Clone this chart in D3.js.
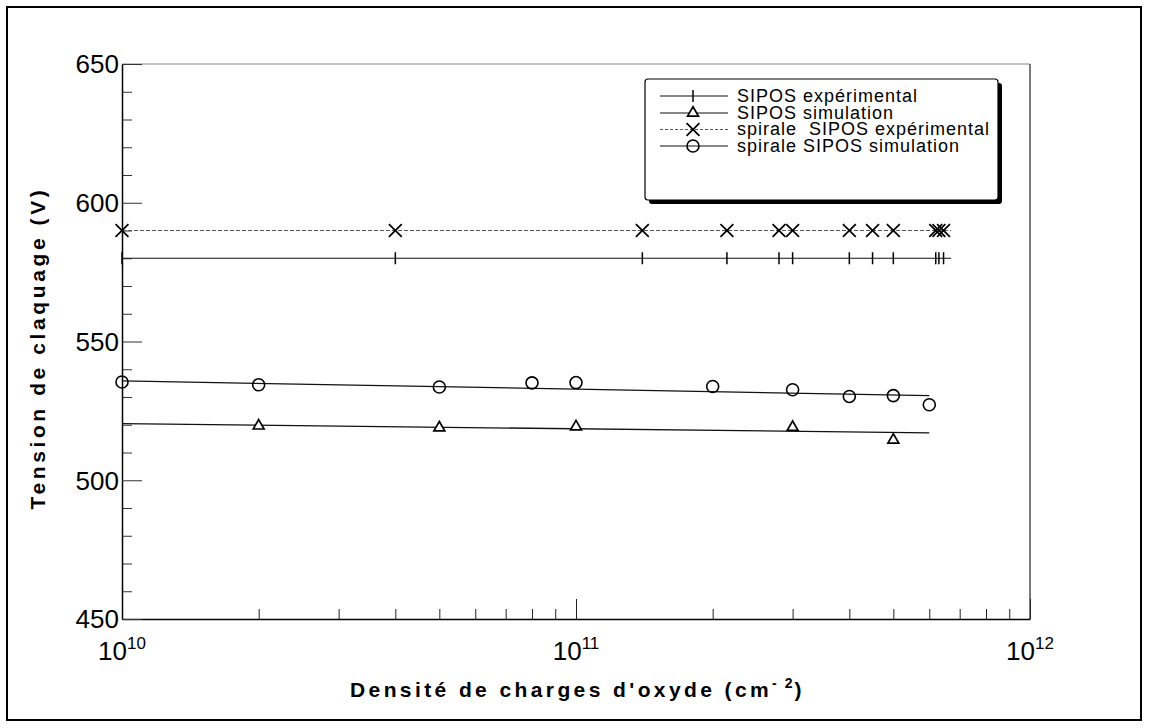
<!DOCTYPE html>
<html>
<head>
<meta charset="utf-8">
<script src="https://cdn.jsdelivr.net/npm/d3@7"></script>
<style>
  html, body { margin: 0; padding: 0; background: #fff; }
  svg { display: block; font-family: "Liberation Sans", Arial, Helvetica, sans-serif; }
</style>
</head>
<body>
<svg id="chart" width="1149" height="728"></svg>
<script>
// ---------- data ----------
const yTicksMajor = [450, 500, 550, 600, 650];
const xTicksMajor = [1e10, 1e11, 1e12];
const xTickExponents = ["10", "11", "12"];

// SIPOS expérimental (+) and spirale SIPOS expérimental (x)
const expX = [1e10, 4e10, 1.4e11, 2.15e11, 2.8e11, 3.0e11, 4.0e11, 4.5e11, 5.0e11, 6.2e11, 6.3e11, 6.45e11];
const siposExp = [580, 580, 580, 580, 580, 580, 580, 580, 580, 580, 580, 580];
const spiraleExp = [590, 590, 590, 590, 590, 590, 590, 590, 590, 590, 590, 590];
const expLineX = [1e10, 6.7e11];
const siposExpLine = [580, 580];
const spiraleExpLine = [590, 590];

// SIPOS simulation (triangles)
const simTriX = [2e10, 5e10, 1e11, 3e11, 5e11];
const simTriY = [519.6, 518.9, 519.3, 519.1, 514.5];
// spirale SIPOS simulation (circles)
const simCircX = [1e10, 2e10, 5e10, 8e10, 1e11, 2e11, 3e11, 4e11, 5e11, 6e11];
const simCircY = [535.4, 534.4, 533.6, 535.1, 535.2, 533.8, 532.6, 530.2, 530.5, 527.2];
// fitted lines
const fitX = [1e10, 6.0e11];
const triFit = [520.4, 517.1];
const circFit = [535.8, 530.5];

const legendLabels = ["SIPOS expérimental", "SIPOS simulation", "spirale  SIPOS expérimental", "spirale SIPOS simulation"];
const legendMarkers = ["plus", "triangle", "times", "circle"];

// ---------- layout ----------
const svg = d3.select("#chart");
const x = d3.scaleLog().domain([1e10, 1e12]).range([122, 1030]);
const y = d3.scaleLinear().domain([450, 650]).range([619, 64]);

// outer frame
svg.append("rect").attr("x", 7).attr("y", 7).attr("width", 1134).attr("height", 713)
  .attr("fill", "none").attr("stroke", "#000").attr("stroke-width", 2);

// plot frame
svg.append("line").attr("x1", x(1e10)).attr("x2", x(1e12)).attr("y1", y(650)).attr("y2", y(650))
  .attr("stroke", "#888").attr("stroke-width", 1.2);
svg.append("line").attr("x1", x(1e12)).attr("x2", x(1e12)).attr("y1", y(650)).attr("y2", y(450))
  .attr("stroke", "#222").attr("stroke-width", 1.2);

// x axis (inward ticks)
const xMinor = [];
for (let d = 1e10; d < 1e12; d *= 10) for (let k = 2; k <= 9; k++) xMinor.push(k * d);
svg.append("g").attr("transform", `translate(0,${y(450)})`)
  .call(d3.axisBottom(x).tickValues(xMinor).tickSize(-10).tickFormat(""))
  .call(g => g.select(".domain").remove())
  .selectAll("line").attr("stroke", "#222");
const gx = svg.append("g").attr("transform", `translate(0,${y(450)})`)
  .call(d3.axisBottom(x).tickValues(xTicksMajor).tickSize(-20).tickSizeOuter(0).tickFormat(""));
gx.select(".domain").attr("stroke", "#000").attr("stroke-width", 1.5);
gx.selectAll("line").attr("stroke", "#222");

// x tick labels with exponents
xTicksMajor.forEach((v, i) => {
  const t = svg.append("text").attr("x", x(v)).attr("y", 660)
    .attr("text-anchor", "middle").attr("font-size", 26).attr("fill", "#000");
  t.append("tspan").text("10");
  t.append("tspan").attr("dy", -11).attr("font-size", 17).text(xTickExponents[i]);
});

// y axis (inward ticks)
const yMinor = d3.range(460, 650, 10).filter(v => v % 50 !== 0);
svg.append("g").attr("transform", `translate(${x(1e10)},0)`)
  .call(d3.axisLeft(y).tickValues(yMinor).tickSize(-10).tickFormat(""))
  .call(g => g.select(".domain").remove())
  .selectAll("line").attr("stroke", "#333");
const gy = svg.append("g").attr("transform", `translate(${x(1e10)},0)`)
  .call(d3.axisLeft(y).tickValues(yTicksMajor).tickSize(-20).tickSizeOuter(0).tickFormat(""));
gy.select(".domain").attr("stroke", "#000").attr("stroke-width", 1.5);
gy.selectAll("line").attr("stroke", "#333");
yTicksMajor.forEach(v => {
  svg.append("text").attr("x", x(1e10) - 3).attr("y", y(v)).attr("dy", "0.36em")
    .attr("text-anchor", "end").attr("font-size", 26).attr("fill", "#000").text(v);
});

// axis titles
svg.append("text").attr("transform", "translate(45,348) rotate(-90)")
  .attr("text-anchor", "middle").attr("font-size", 21).attr("font-weight", "bold")
  .attr("letter-spacing", "3.6px").text("Tension de claquage (V)");
const xt = svg.append("text").attr("x", 350).attr("y", 697)
  .attr("font-size", 21).attr("font-weight", "bold").attr("letter-spacing", "3.4px");
xt.append("tspan").text("Densité de charges d'oxyde (cm");
xt.append("tspan").attr("dy", -9).attr("font-size", 14).attr("letter-spacing", "2px").text("- 2");
xt.append("tspan").attr("dy", 9).text(")");

// ---------- series ----------
const line = d3.line().x(d => x(d[0])).y(d => y(d[1]));
const zip = (a, b) => a.map((v, i) => [v, b[i]]);

svg.append("path").datum(zip(expLineX, spiraleExpLine)).attr("d", line)
  .attr("fill", "none").attr("stroke", "#555").attr("stroke-width", 1.1).attr("stroke-dasharray", "4,2");
svg.append("path").datum(zip(expLineX, siposExpLine)).attr("d", line)
  .attr("fill", "none").attr("stroke", "#111").attr("stroke-width", 1.1);
svg.append("path").datum(zip(fitX, triFit)).attr("d", line)
  .attr("fill", "none").attr("stroke", "#111").attr("stroke-width", 1.3);
svg.append("path").datum(zip(fitX, circFit)).attr("d", line)
  .attr("fill", "none").attr("stroke", "#111").attr("stroke-width", 1.3);

const timesSym = d3.symbol(d3.symbolTimes, 110);
const triSym = d3.symbol(d3.symbolTriangle2, 85);

function marker(g, type, cx, cy) {
  if (type === "plus") {
    g.append("line").attr("x1", cx).attr("x2", cx).attr("y1", cy - 6).attr("y2", cy + 6)
      .attr("stroke", "#000").attr("stroke-width", 1.5);
  } else if (type === "times") {
    g.append("path").attr("d", timesSym()).attr("transform", `translate(${cx},${cy})`)
      .attr("fill", "none").attr("stroke", "#000").attr("stroke-width", 1.7);
  } else if (type === "triangle") {
    g.append("path").attr("d", triSym()).attr("transform", `translate(${cx},${cy})`)
      .attr("fill", "#fff").attr("stroke", "#000").attr("stroke-width", 1.7);
  } else {
    g.append("circle").attr("cx", cx).attr("cy", cy).attr("r", 6)
      .attr("fill", "none").attr("stroke", "#000").attr("stroke-width", 1.6);
  }
}

const gm = svg.append("g");
expX.forEach((v, i) => marker(gm, "plus", x(v), y(siposExp[i])));
expX.forEach((v, i) => marker(gm, "times", x(v), y(spiraleExp[i])));
simTriX.forEach((v, i) => marker(gm, "triangle", x(v), y(simTriY[i])));
simCircX.forEach((v, i) => marker(gm, "circle", x(v), y(simCircY[i])));

// ---------- legend ----------
const lg = svg.append("g");
lg.append("rect").attr("x", 649).attr("y", 83).attr("width", 353).attr("height", 121).attr("rx", 3)
  .attr("fill", "#000");
lg.append("rect").attr("x", 645).attr("y", 79).attr("width", 353).attr("height", 121).attr("rx", 3)
  .attr("fill", "#fff").attr("stroke", "#000").attr("stroke-width", 1.2);
const rowY = [95, 112, 128.5, 145];
const dashes = [null, null, "3,2", null];
legendLabels.forEach((lab, i) => {
  const ry = rowY[i];
  lg.append("line").attr("x1", 660).attr("x2", 728).attr("y1", ry + 1).attr("y2", ry + 1)
    .attr("stroke", i === 2 ? "#555" : "#111").attr("stroke-width", 1.1)
    .attr("stroke-dasharray", dashes[i]);
  marker(lg, legendMarkers[i], 693, ry + 1);
  lg.append("text").attr("x", 737).attr("y", ry + 6.5).attr("font-size", 18)
    .attr("letter-spacing", "1px")
    .attr("style", "white-space: pre").attr("fill", "#000").text(lab);
});
</script>
</body>
</html>
